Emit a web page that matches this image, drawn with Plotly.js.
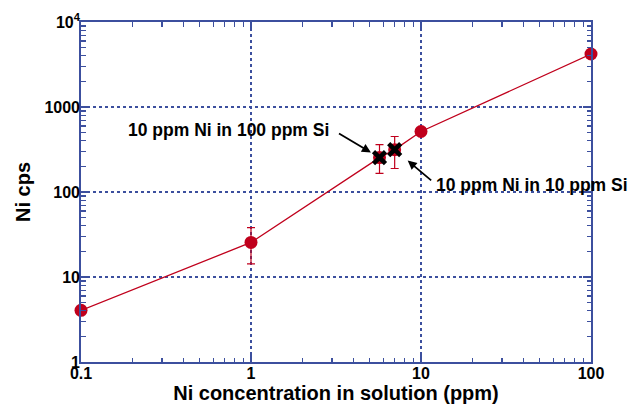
<!DOCTYPE html>
<html><head><meta charset="utf-8">
<script src="https://cdn.plot.ly/plotly-3.0.1.min.js"></script>
<style>body{margin:0;background:#fff}#c{width:631px;height:411px}</style>
</head><body><div id="c"></div>
<script>
// data
const concX = [0.1, 1, 5.7, 7.0, 10, 100];
const cpsY = [4.05, 25.5, 254, 315, 515, 4200];
const errPlus = [0, 12.5, 106, 135, 0, 0];
const errMinus = [0, 11.2, 88, 126, 0, 0];
const siX = [5.7, 7.0];
const siY = [254, 315];
const siLabels = ["10 ppm Ni in 100 ppm Si", "10 ppm Ni in 10 ppm Si"];
const xTickVals = [0.1, 1, 10, 100];
const xTickText = ["0.1", "1", "10", "100"];
const yTickVals = [1, 10, 100, 1000, 10000];
const yTickText = ["1", "10", "100", "1000", "10<sup>4</sup>"];

function allTicks(decades, last) {
  const out = [];
  decades.forEach(d => { for (let k = 1; k <= 9; k++) out.push(d * k); });
  out.push(last);
  return out;
}
const xMinor = allTicks([0.1, 1, 10], 100);
const yMinor = allTicks([1, 10, 100, 1000], 10000);

const red = '#c0001c';
const axisBlue = '#3c4f9e';
const font = {family: 'Liberation Sans, Arial, sans-serif', color: '#000'};

const traces = [
  {
    x: concX, y: cpsY, mode: 'lines+markers', type: 'scatter', cliponaxis: false,
    line: {color: red, width: 1.3},
    marker: {color: red, size: 13},
    error_y: {type: 'data', symmetric: false, array: errPlus, arrayminus: errMinus,
      color: red, thickness: 1.2, width: 4},
    hoverinfo: 'none', showlegend: false
  },
  {
    x: siX, y: siY, xaxis: 'x2', yaxis: 'y2', mode: 'markers', type: 'scatter', cliponaxis: false,
    marker: {symbol: 'x-thin', size: 12, line: {color: '#000', width: 4.5}},
    hoverinfo: 'none', showlegend: false
  }
];

// main axes: frame + minor ticks
const minorCommon = {
  type: 'log', tickmode: 'array', ticks: 'inside', ticklen: 4.5, tickwidth: 1.3, tickcolor: axisBlue,
  showline: true, linecolor: axisBlue, linewidth: 2, mirror: 'ticks',
  showticklabels: false, showgrid: false, zeroline: false
};
// overlay axes: major ticks, grid, labels, titles
const majorCommon = {
  type: 'log', tickmode: 'array', ticks: 'inside', ticklen: 8, tickwidth: 1.5, tickcolor: axisBlue,
  mirror: 'ticks', showline: false, showgrid: true, griddash: 'dot', gridcolor: axisBlue,
  gridwidth: 1.5, zeroline: false,
  tickfont: Object.assign({size: 16, weight: 'bold'}, font)
};

const layout = {
  width: 631, height: 411,
  margin: {l: 81, r: 40, t: 22, b: 49},
  paper_bgcolor: '#fff', plot_bgcolor: '#fff', showlegend: false,
  xaxis: Object.assign({}, minorCommon, {range: [-1, 2], tickvals: xMinor}),
  yaxis: Object.assign({}, minorCommon, {range: [0, 4], tickvals: yMinor}),
  xaxis2: Object.assign({}, majorCommon, {range: [-1, 2], overlaying: 'x', anchor: 'y2', side: 'bottom',
    tickvals: xTickVals, ticktext: xTickText,
    title: {text: 'Ni concentration in solution (ppm)', standoff: 4,
      font: Object.assign({size: 20, weight: 'bold'}, font)}}),
  yaxis2: Object.assign({}, majorCommon, {range: [0, 4], overlaying: 'y', anchor: 'x2', side: 'left',
    tickvals: yTickVals, ticktext: yTickText,
    title: {text: 'Ni cps', standoff: 8,
      font: Object.assign({size: 20, weight: 'bold'}, font)}}),
  annotations: [
    {x: 0.289, y: 0.682, xref: 'paper', yref: 'paper', text: siLabels[0], showarrow: false,
     xanchor: 'center', yanchor: 'middle',
     font: Object.assign({size: 17.5, weight: 'bold'}, font)},
    {x: 0.884, y: 0.521, xref: 'paper', yref: 'paper', text: siLabels[1], showarrow: false,
     xanchor: 'center', yanchor: 'middle',
     font: Object.assign({size: 17.5, weight: 'bold'}, font)},
    {x: Math.log10(siX[0]), y: Math.log10(siY[0]), xref: 'x', yref: 'y',
     text: '', showarrow: true, arrowhead: 2, arrowsize: 1, arrowwidth: 1.8,
     arrowcolor: '#000', standoff: 10, ax: -42, ay: -25},
    {x: Math.log10(siX[1]), y: Math.log10(siY[1]), xref: 'x', yref: 'y',
     text: '', showarrow: true, arrowhead: 2, arrowsize: 1, arrowwidth: 1.8,
     arrowcolor: '#000', standoff: 17, ax: 38, ay: 32}
  ]
};

Plotly.newPlot('c', traces, layout, {displayModeBar: false, staticPlot: true});
</script></body></html>
